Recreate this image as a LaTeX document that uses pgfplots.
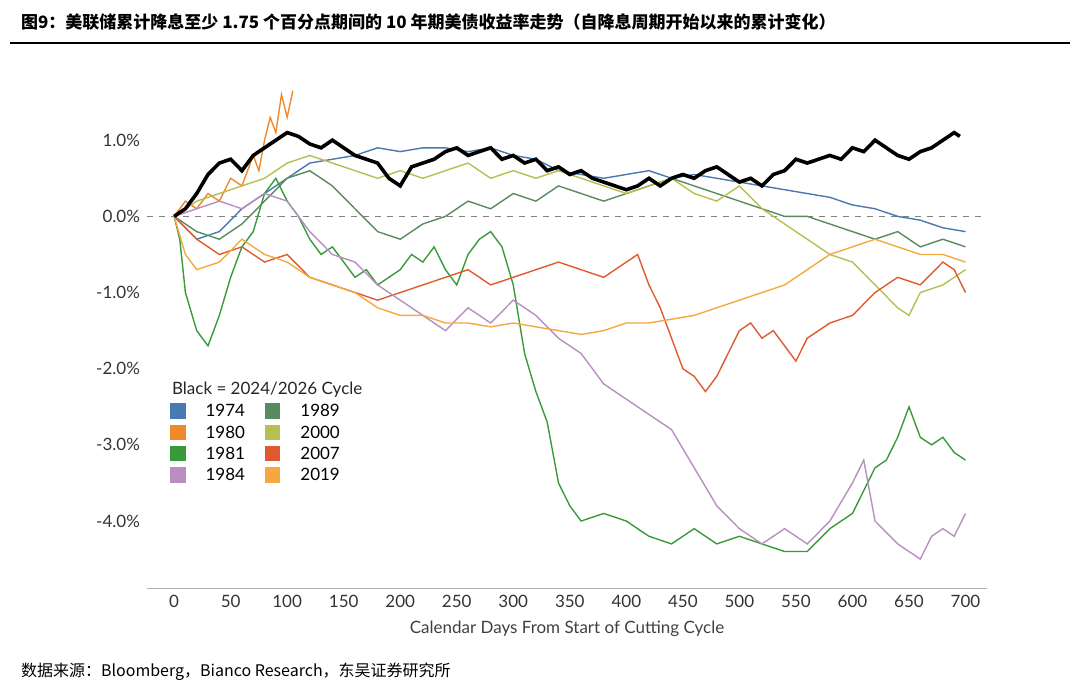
\documentclass[border=0pt]{standalone}
\usepackage{pgfplots}
\pgfplotsset{compat=1.18}
\usepackage{fontspec}
\setmainfont{Lato}
\newfontfamily\cjk{Noto Sans CJK SC}
\definecolor{c74}{HTML}{4A78B0}
\definecolor{c80}{HTML}{F0892A}
\definecolor{c81}{HTML}{3A9A3A}
\definecolor{c84}{HTML}{B98EC0}
\definecolor{c89}{HTML}{5A8A60}
\definecolor{c00}{HTML}{B5C050}
\definecolor{c07}{HTML}{E05A30}
\definecolor{c19}{HTML}{F5A840}
\begin{document}
\begin{tikzpicture}[x=0.5pt,y=0.5pt]
\useasboundingbox (0,0) rectangle (1080,697);
\node[anchor=west,font=\cjk\bfseries\fontsize{8.5}{10}\selectfont,text=black] at (14,675) {图9：美联储累计降息至少 1.75 个百分点期间的 10 年期美债收益率走势（自降息周期开始以来的累计变化）};
\draw[line width=1pt] (10,654) -- (1070,654);
\node[anchor=west,font=\cjk\fontsize{8}{10}\selectfont] at (14,25) {数据来源：Bloomberg，Bianco Research，东吴证券研究所};
\begin{axis}[at={(130,143)},anchor=south west,width=420pt,height=252.5pt,scale only axis,
 xmin=-24,xmax=719,ymin=-4.88,ymax=1.75,
 axis lines*=left, y axis line style={draw=none}, x axis line style={draw=gray!60},
 major tick length=0pt,
 xtick={0,50,...,700}, ytick={-4,-3,-2,-1,0,1},
 yticklabel={\pgfmathprintnumber[fixed,fixed zerofill,precision=1]{\tick}\%},
 /pgf/number format/assume math mode=true,
 tick label style={font=\fontsize{8.5}{10}\selectfont,text=black!80},
 xlabel={Calendar Days From Start of Cutting Cycle},
 xlabel style={font=\fontsize{8.5}{10}\selectfont,text=black!75},
 legend columns=2,
 legend style={at={(0.02,0.19)},anchor=south west,draw=none,fill=none,font=\fontsize{8.5}{10}\selectfont,column sep=8pt,row sep=-1pt},
 legend image code/.code={\fill[#1] (0pt,-3pt) rectangle (7pt,4pt);},
 every axis plot/.append style={line width=0.7pt},
]
\addplot[gray,dashed,line width=0.8pt,forget plot] coordinates {(-24,0) (719,0)};
\addplot[c74] coordinates {(0,0)(20,-0.3)(40,-0.2)(60,0.1)(80,0.3)(100,0.5)(120,0.7)(140,0.75)(160,0.8)(180,0.9)(200,0.85)(220,0.9)(240,0.9)(260,0.85)(280,0.9)(300,0.8)(320,0.75)(340,0.6)(360,0.55)(380,0.5)(400,0.55)(420,0.6)(440,0.5)(460,0.55)(480,0.5)(500,0.45)(520,0.4)(540,0.35)(560,0.3)(580,0.25)(600,0.15)(620,0.1)(640,0.0)(660,-0.05)(680,-0.15)(700,-0.2)};
\addlegendentry{1974}
\addplot[c89] coordinates {(0,0)(20,-0.2)(40,-0.3)(60,-0.1)(80,0.2)(100,0.5)(120,0.6)(140,0.4)(160,0.1)(180,-0.2)(200,-0.3)(220,-0.1)(240,0.0)(260,0.2)(280,0.1)(300,0.3)(320,0.2)(340,0.4)(360,0.3)(380,0.2)(400,0.3)(420,0.4)(440,0.5)(460,0.4)(480,0.3)(500,0.2)(520,0.1)(540,0.0)(560,0.0)(580,-0.1)(600,-0.2)(620,-0.3)(640,-0.2)(660,-0.4)(680,-0.3)(700,-0.4)};
\addlegendentry{1989}
\addplot[c80] coordinates {(0,0)(10,0.2)(20,0.1)(30,0.3)(40,0.2)(50,0.5)(60,0.4)(70,0.8)(75,0.6)(80,1.0)(85,1.3)(90,1.1)(95,1.6)(100,1.3)(105,1.65)};
\addlegendentry{1980}
\addplot[c00] coordinates {(0,0)(20,0.2)(40,0.3)(60,0.4)(80,0.5)(100,0.7)(120,0.8)(140,0.7)(160,0.6)(180,0.5)(200,0.6)(220,0.5)(240,0.6)(260,0.7)(280,0.5)(300,0.6)(320,0.5)(340,0.6)(360,0.5)(380,0.4)(400,0.3)(420,0.4)(440,0.5)(460,0.3)(480,0.2)(500,0.4)(520,0.1)(540,-0.1)(560,-0.3)(580,-0.5)(600,-0.6)(620,-0.9)(640,-1.2)(650,-1.3)(660,-1.0)(680,-0.9)(700,-0.7)};
\addlegendentry{2000}
\addplot[c81] coordinates {(0,0)(5,-0.3)(10,-1.0)(20,-1.5)(30,-1.7)(40,-1.3)(50,-0.8)(60,-0.4)(70,-0.2)(80,0.3)(90,0.5)(100,0.2)(110,0.0)(120,-0.3)(130,-0.5)(140,-0.4)(150,-0.6)(160,-0.8)(170,-0.7)(180,-0.9)(190,-0.8)(200,-0.7)(210,-0.5)(220,-0.6)(230,-0.4)(240,-0.7)(250,-0.9)(260,-0.5)(270,-0.3)(280,-0.2)(290,-0.4)(300,-0.9)(310,-1.8)(320,-2.3)(330,-2.7)(340,-3.5)(350,-3.8)(360,-4.0)(380,-3.9)(400,-4.0)(420,-4.2)(440,-4.3)(460,-4.1)(480,-4.3)(500,-4.2)(520,-4.3)(540,-4.4)(560,-4.4)(580,-4.1)(600,-3.9)(620,-3.3)(630,-3.2)(640,-2.9)(650,-2.5)(660,-2.9)(670,-3.0)(680,-2.9)(690,-3.1)(700,-3.2)};
\addlegendentry{1981}
\addplot[c07] coordinates {(0,0)(20,-0.3)(40,-0.5)(60,-0.4)(80,-0.6)(100,-0.5)(120,-0.8)(140,-0.9)(160,-1.0)(180,-1.1)(200,-1.0)(220,-0.9)(240,-0.8)(260,-0.7)(280,-0.9)(300,-0.8)(320,-0.7)(340,-0.6)(360,-0.7)(380,-0.8)(400,-0.6)(410,-0.5)(420,-0.9)(430,-1.2)(440,-1.6)(450,-2.0)(460,-2.1)(470,-2.3)(480,-2.1)(490,-1.8)(500,-1.5)(510,-1.4)(520,-1.6)(530,-1.5)(540,-1.7)(550,-1.9)(560,-1.6)(580,-1.4)(600,-1.3)(620,-1.0)(640,-0.8)(660,-0.9)(680,-0.6)(690,-0.7)(700,-1.0)};
\addlegendentry{2007}
\addplot[c84] coordinates {(0,0)(20,0.1)(40,0.2)(60,0.1)(80,0.3)(100,0.2)(120,-0.2)(140,-0.5)(160,-0.6)(180,-0.9)(200,-1.1)(220,-1.3)(240,-1.5)(260,-1.2)(280,-1.4)(300,-1.1)(320,-1.3)(340,-1.6)(360,-1.8)(380,-2.2)(400,-2.4)(420,-2.6)(440,-2.8)(460,-3.3)(480,-3.8)(500,-4.1)(520,-4.3)(540,-4.1)(560,-4.3)(580,-4.0)(600,-3.5)(610,-3.2)(620,-4.0)(640,-4.3)(660,-4.5)(670,-4.2)(680,-4.1)(690,-4.2)(700,-3.9)};
\addlegendentry{1984}
\addplot[c19] coordinates {(0,0)(10,-0.5)(20,-0.7)(40,-0.6)(60,-0.3)(80,-0.5)(100,-0.6)(120,-0.8)(140,-0.9)(160,-1.0)(180,-1.2)(200,-1.3)(220,-1.3)(240,-1.4)(260,-1.4)(280,-1.45)(300,-1.4)(320,-1.45)(340,-1.5)(360,-1.55)(380,-1.5)(400,-1.4)(420,-1.4)(440,-1.35)(460,-1.3)(480,-1.2)(500,-1.1)(520,-1.0)(540,-0.9)(560,-0.7)(580,-0.5)(600,-0.4)(620,-0.3)(640,-0.4)(660,-0.5)(680,-0.5)(700,-0.6)};
\addlegendentry{2019}
\addplot[black,line width=1.8pt,forget plot] coordinates {(0,0)(5,0.05)(10,0.1)(20,0.3)(30,0.55)(40,0.7)(50,0.75)(60,0.6)(70,0.8)(80,0.9)(90,1.0)(100,1.1)(110,1.05)(120,0.95)(130,0.9)(140,1.0)(150,0.9)(160,0.8)(170,0.75)(180,0.7)(190,0.5)(200,0.4)(210,0.65)(220,0.7)(230,0.75)(240,0.85)(250,0.9)(260,0.8)(270,0.85)(280,0.9)(290,0.75)(300,0.8)(310,0.7)(320,0.75)(330,0.6)(340,0.65)(350,0.55)(360,0.6)(370,0.5)(380,0.45)(390,0.4)(400,0.35)(410,0.4)(420,0.5)(430,0.4)(440,0.5)(450,0.55)(460,0.5)(470,0.6)(480,0.65)(490,0.55)(500,0.45)(510,0.5)(520,0.4)(530,0.55)(540,0.6)(550,0.75)(560,0.7)(570,0.75)(580,0.8)(590,0.75)(600,0.9)(610,0.85)(620,1.0)(630,0.9)(640,0.8)(650,0.75)(660,0.85)(670,0.9)(680,1.0)(690,1.1)(695,1.05)};
\node[anchor=west,font=\fontsize{8.5}{10}\selectfont,text=black!85] at (axis cs:-8,-2.27) {Black = 2024/2026 Cycle};
\end{axis}
\end{tikzpicture}
\end{document}
